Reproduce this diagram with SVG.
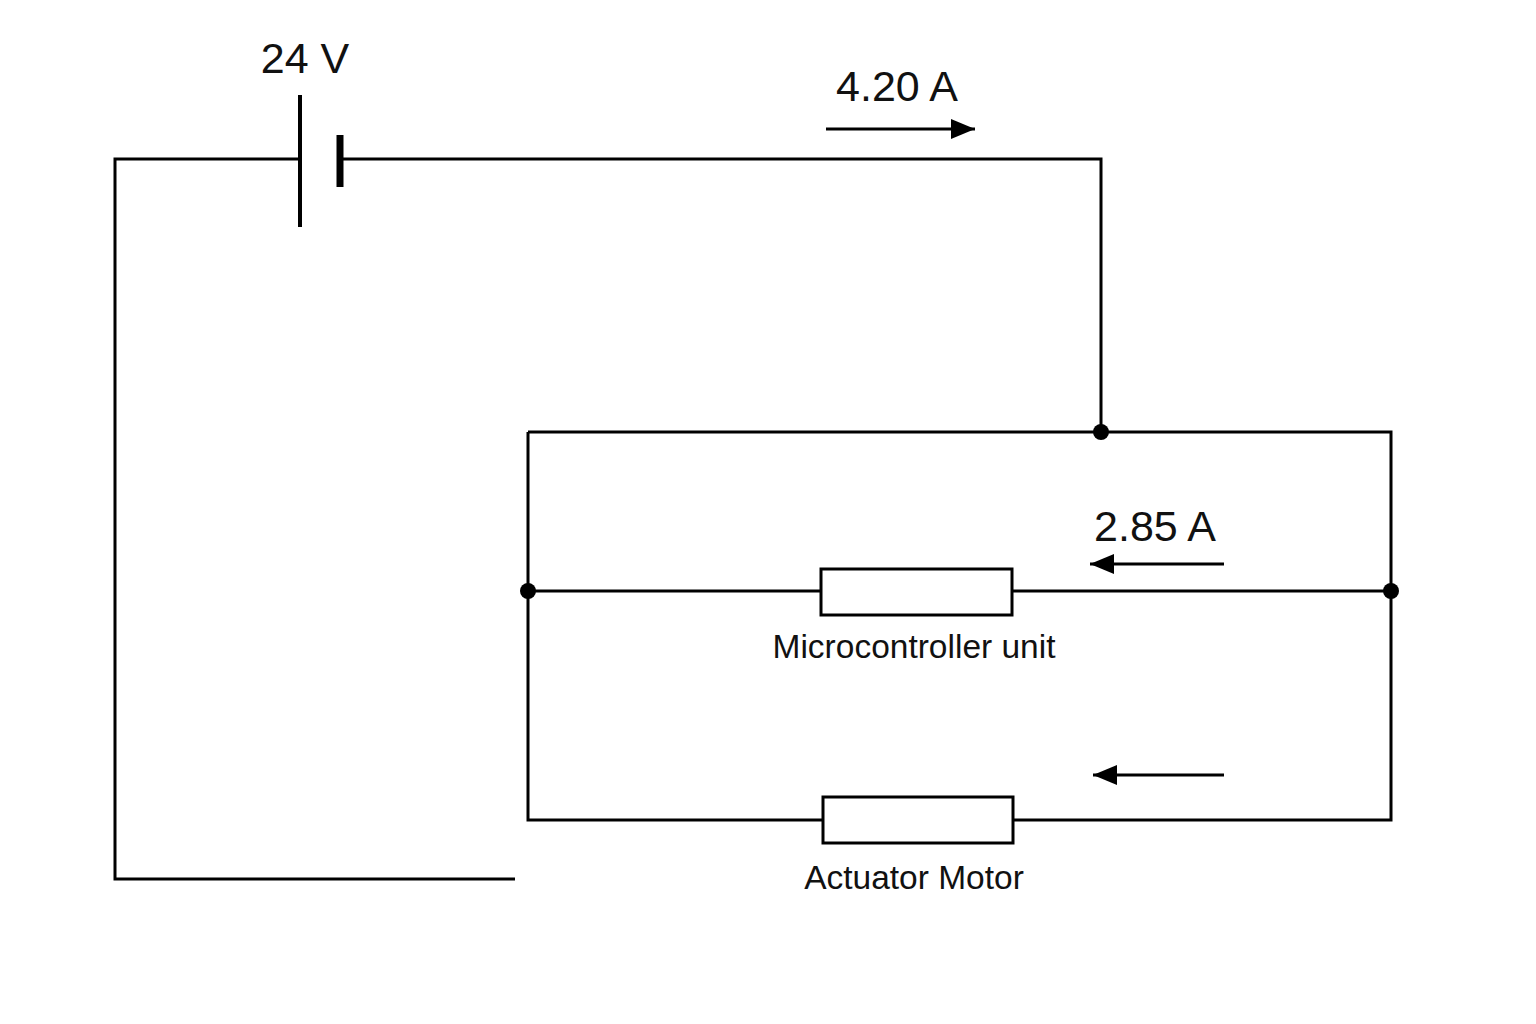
<svg xmlns="http://www.w3.org/2000/svg" width="1536" height="1024" viewBox="0 0 1536 1024">
<style>
.w{stroke:#000;stroke-width:3;fill:none}
.t{font-family:"Liberation Sans",Arial,sans-serif;fill:#111;text-anchor:middle}
</style>
<defs>
<marker id="a" viewBox="0 0 24 20" refX="24" refY="10" markerWidth="24" markerHeight="20" markerUnits="userSpaceOnUse" orient="auto"><path d="M0,0L24,10L0,20z"/></marker></defs>
<rect width="1536" height="1024" fill="#fff"/>
<g id="connectors">
<path class="w" d="M300,159H115V879H515"/>
<path class="w" d="M340,159H1101V432"/>
<path class="w" d="M528,432H1391V820H1013M823,820H528V432"/>
<path class="w" d="M528,591H821M1012,591H1391"/>
<path class="w" d="M826,129H975" marker-end="url(#a)"/>
<path class="w" d="M1224,564H1090" marker-end="url(#a)"/>
<path class="w" d="M1224,775H1093" marker-end="url(#a)"/>
</g>
<g id="battery"><line x1="300" y1="95" x2="300" y2="227" stroke="#000" stroke-width="4"/><line x1="340" y1="135" x2="340" y2="187" stroke="#000" stroke-width="7"/><text class="t" x="305" y="73" font-size="43">24 V</text></g>
<g id="mcu"><rect class="w" x="821" y="569" width="191" height="46"/><text class="t" x="914" y="658" font-size="33.5">Microcontroller unit</text></g>
<g id="motor"><rect class="w" x="823" y="797" width="190" height="46"/><text class="t" x="914" y="889" font-size="33.5">Actuator Motor</text></g>
<g id="junctions"><circle cx="1101" cy="432" r="8"/><circle cx="528" cy="591" r="8"/><circle cx="1391" cy="591" r="8"/></g>
<g id="labels"><text class="t" x="897" y="101" font-size="43">4.20 A</text><text class="t" x="1155" y="541" font-size="43">2.85 A</text></g>
</svg>
